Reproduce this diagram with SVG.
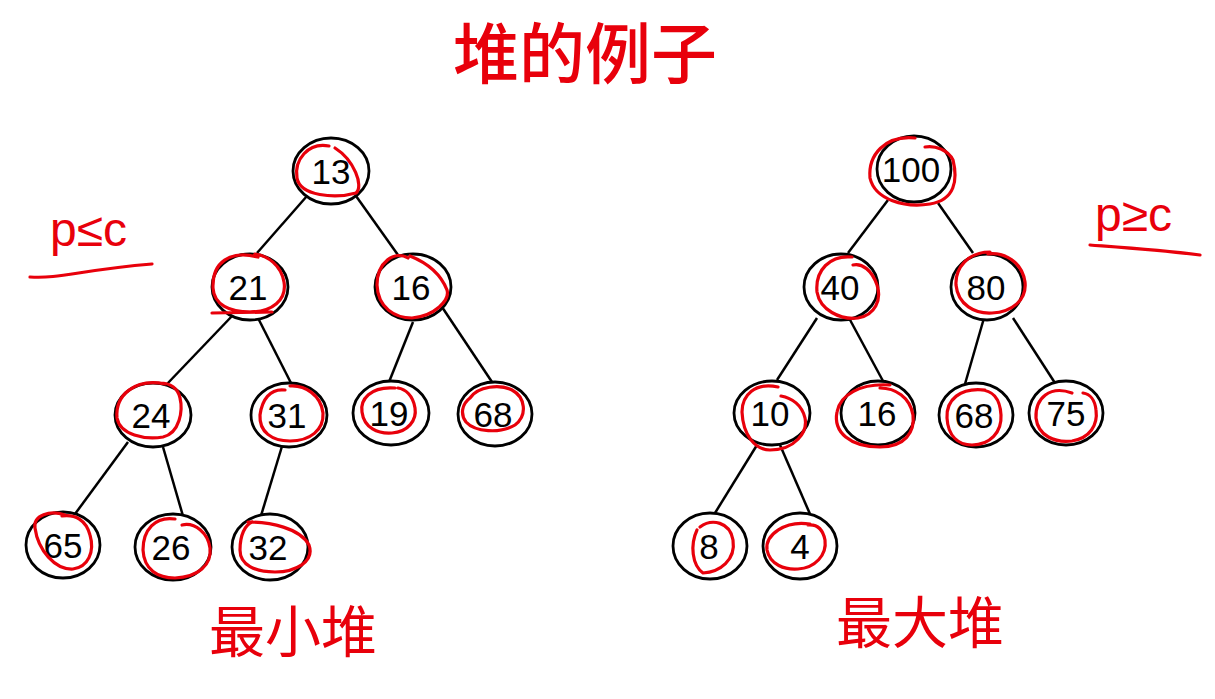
<svg xmlns="http://www.w3.org/2000/svg" width="1215" height="699" viewBox="0 0 1215 699">
<style>
.n ellipse{fill:#fff;stroke:#000;stroke-width:2.8}
.n text{font-family:"Liberation Sans",Arial,sans-serif;font-size:35px;fill:#000;text-anchor:middle}
.c line{stroke:#000;stroke-width:2.5}
.r{fill:none;stroke:#e8000b;stroke-width:3.2;stroke-linecap:round;stroke-linejoin:round}
.hw{font-family:"Liberation Sans",Arial,sans-serif;fill:#e8000b}
.cjk{font-family:"Noto Sans CJK SC",sans-serif;fill:#e8000b}
</style>
<rect width="1215" height="699" fill="#fff"/>
<text class="cjk" x="585" y="78" font-size="66" font-weight="500" text-anchor="middle">堆的例子</text>
<g id="connectors" class="c">
<line x1="307" y1="196" x2="257" y2="253"/>
<line x1="356" y1="196" x2="398" y2="255"/>
<line x1="233" y1="315" x2="167" y2="384"/>
<line x1="258" y1="318" x2="292" y2="385"/>
<line x1="413" y1="322" x2="389" y2="382"/>
<line x1="442" y1="307" x2="492" y2="382"/>
<line x1="128" y1="442" x2="75" y2="514"/>
<line x1="163" y1="447" x2="183" y2="516"/>
<line x1="283" y1="443" x2="260" y2="519"/>
<line x1="888" y1="200" x2="848" y2="253"/>
<line x1="938" y1="203" x2="973" y2="253"/>
<line x1="817" y1="318" x2="777" y2="380"/>
<line x1="849" y1="318" x2="883" y2="381"/>
<line x1="984" y1="318" x2="965" y2="384"/>
<line x1="1013" y1="318" x2="1055" y2="383"/>
<line x1="757" y1="445" x2="715" y2="513"/>
<line x1="780" y1="445" x2="810" y2="514"/>
</g>
<g id="n13" class="n"><ellipse cx="331" cy="171" rx="38" ry="33"/><text x="331" y="184">13</text></g>
<g id="n21" class="n"><ellipse cx="250" cy="287" rx="38" ry="33"/><text x="248" y="300">21</text></g>
<g id="n16a" class="n"><ellipse cx="413" cy="287" rx="38" ry="33"/><text x="411" y="300">16</text></g>
<g id="n24" class="n"><ellipse cx="153" cy="415" rx="38" ry="32"/><text x="151" y="428">24</text></g>
<g id="n31" class="n"><ellipse cx="289" cy="415" rx="38" ry="32"/><text x="287" y="428">31</text></g>
<g id="n19" class="n"><ellipse cx="391" cy="413" rx="38" ry="32"/><text x="389" y="426">19</text></g>
<g id="n68a" class="n"><ellipse cx="495" cy="414" rx="37" ry="32"/><text x="493" y="427">68</text></g>
<g id="n65" class="n"><ellipse cx="63" cy="545" rx="37" ry="33"/><text x="63" y="558">65</text></g>
<g id="n26" class="n"><ellipse cx="173" cy="547" rx="38" ry="33"/><text x="171" y="560">26</text></g>
<g id="n32" class="n"><ellipse cx="270" cy="547" rx="38" ry="33"/><text x="268" y="560">32</text></g>
<g id="n100" class="n"><ellipse cx="914" cy="169" rx="37" ry="33"/><text x="911" y="182">100</text></g>
<g id="n40" class="n"><ellipse cx="841" cy="287" rx="37" ry="33"/><text x="840" y="300">40</text></g>
<g id="n80" class="n"><ellipse cx="987" cy="287" rx="36" ry="33"/><text x="986" y="300">80</text></g>
<g id="n10" class="n"><ellipse cx="772" cy="413" rx="38" ry="32"/><text x="770" y="426">10</text></g>
<g id="n16b" class="n"><ellipse cx="878" cy="413" rx="37" ry="32"/><text x="877" y="426">16</text></g>
<g id="n68b" class="n"><ellipse cx="976" cy="415" rx="37" ry="32"/><text x="974" y="428">68</text></g>
<g id="n75" class="n"><ellipse cx="1066" cy="413" rx="37" ry="32"/><text x="1066" y="426">75</text></g>
<g id="n8" class="n"><ellipse cx="710" cy="546" rx="37" ry="33"/><text x="709" y="559">8</text></g>
<g id="n4" class="n"><ellipse cx="800" cy="546" rx="37" ry="33"/><text x="800" y="559">4</text></g>
<g id="marks">
<path class="r" d="M329 146 C308 142,294 160,297 178 C300 196,335 199,356 193 C364 186,354 160,335 148"/>
<path class="r" d="M258 257 C230 250,212 262,213 288 C214 305,230 312,250 312 C272 312,287 300,284 282 C281 265,268 256,255 254 M212 313 L272 312"/>
<path class="r" d="M408 258 C395 250,377 262,377 285 C378 308,395 318,412 318 C435 316,450 300,447 290 C440 272,425 262,410 256"/>
<path class="r" d="M165 384 C135 378,115 395,117 418 C120 435,145 440,163 437 C180 433,183 410,180 398 C178 388,170 383,160 383"/>
<path class="r" d="M285 390 C270 388,262 400,260 415 C259 432,272 441,290 441 C310 441,324 430,323 413 C321 395,305 385,290 386"/>
<path class="r" d="M395 388 C370 386,360 400,362 412 C364 428,378 434,392 433 C408 432,417 420,415 408 C413 395,405 389,398 388"/>
<path class="r" d="M470 398 C478 386,500 384,512 390 C525 397,528 415,515 425 C500 434,475 432,466 422 C460 414,462 404,470 398"/>
<path class="r" d="M65 515 C50 510,33 515,35 528 C38 550,55 570,73 569 C88 567,95 552,90 535 C86 520,75 514,62 516"/>
<path class="r" d="M175 519 C155 516,143 530,143 550 C144 570,158 578,175 578 C198 577,212 565,210 548 C208 533,195 522,182 525"/>
<path class="r" d="M248 522 C270 522,300 528,309 545 C315 562,295 572,275 572 C255 572,240 565,240 550 C240 535,245 525,252 522"/>
<path class="r" d="M915 138 C885 135,868 155,870 178 C875 200,905 208,930 204 C955 200,958 180,953 160 C948 150,935 145,925 147"/>
<path class="r" d="M852 257 C830 255,815 270,817 292 C820 310,840 320,858 318 C875 315,882 300,877 285 C872 270,862 263,853 265"/>
<path class="r" d="M990 252 C968 252,955 268,956 285 C958 305,975 314,992 313 C1012 312,1027 300,1025 282 C1022 262,1005 252,988 254"/>
<path class="r" d="M778 387 C755 382,742 395,742 412 C743 435,755 450,770 450 C795 450,808 432,805 418 C802 405,792 398,781 396"/>
<path class="r" d="M890 385 C860 383,840 395,837 412 C833 432,850 447,880 447 C905 447,915 432,913 415 C910 397,895 388,880 388"/>
<path class="r" d="M985 390 C960 387,946 400,947 418 C948 436,958 445,972 445 C990 445,1002 432,1001 415 C1000 398,992 390,980 390"/>
<path class="r" d="M1072 393 C1050 385,1035 398,1036 418 C1038 436,1055 443,1072 441 C1090 438,1098 425,1096 410 C1095 400,1090 394,1083 393"/>
<path class="r" d="M700 527 C712 518,730 522,733 540 C736 560,720 572,703 573 C692 565,690 545,697 530"/>
<path class="r" d="M810 524 C785 520,765 535,767 550 C770 565,785 570,798 569 C815 568,827 555,825 540 C823 530,818 524,808 525"/>
</g>
<g id="label-min-cond">
<text class="hw" x="50" y="246" font-size="48">p≤c</text>
<path class="r" d="M30 277 C60 279,80 270,152 264"/>
</g>
<g id="label-max-cond">
<text class="hw" x="1095" y="231" font-size="48">p≥c</text>
<path class="r" d="M1090 245 C1130 248,1160 250,1200 255"/>
</g>
<text id="label-min" class="cjk" x="293" y="652" font-size="56" text-anchor="middle">最小堆</text>
<text id="label-max" class="cjk" x="920" y="643" font-size="56" text-anchor="middle">最大堆</text>
</svg>
